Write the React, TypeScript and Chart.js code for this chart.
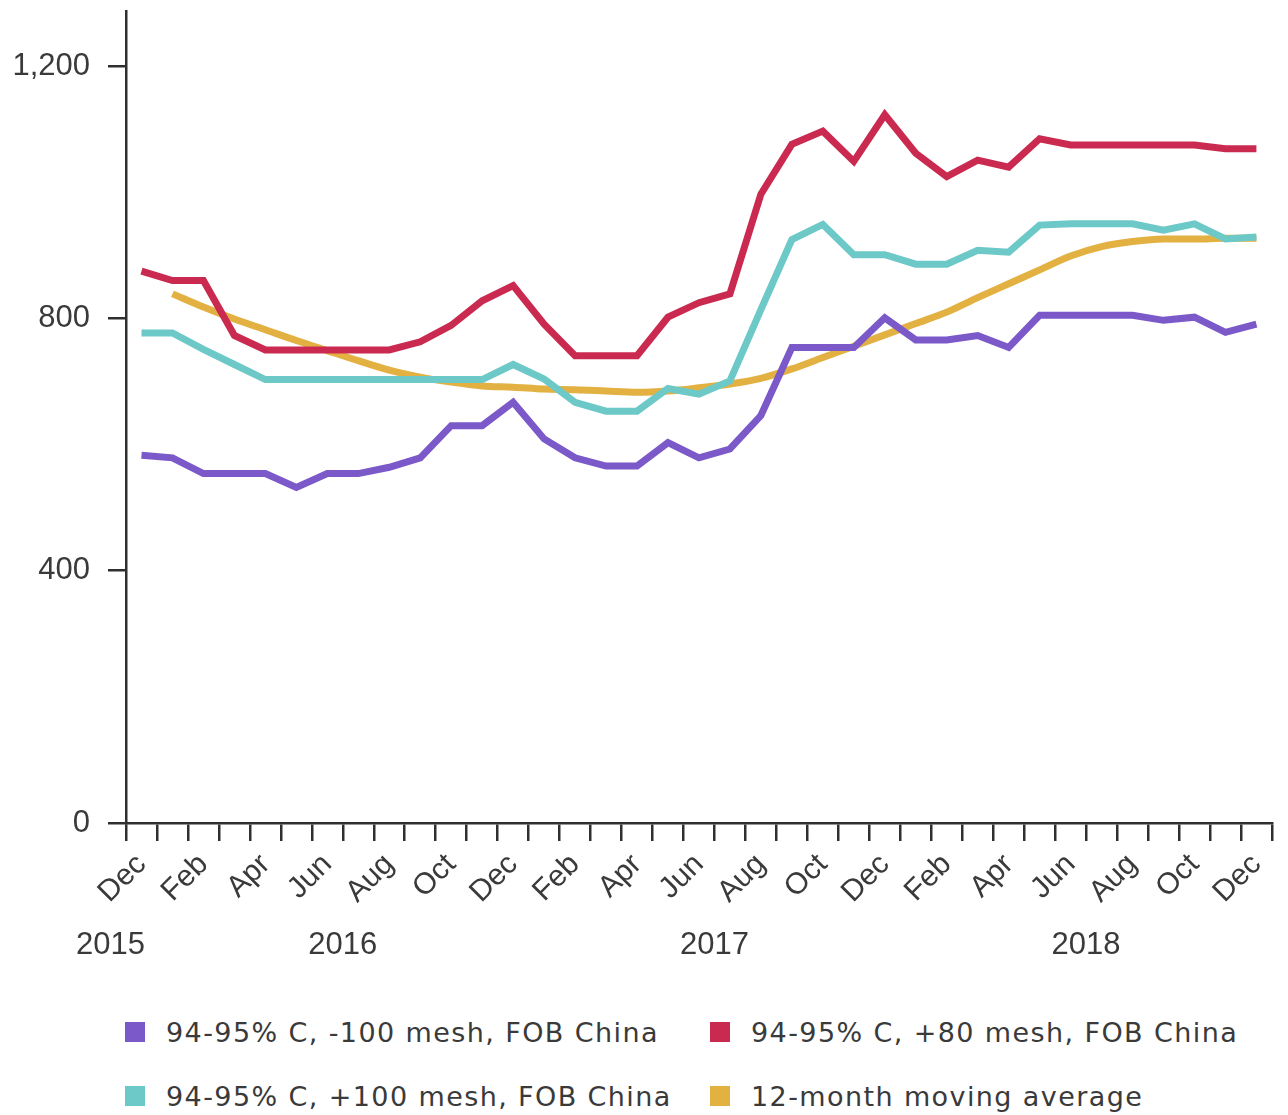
import React, { useEffect, useRef } from 'react';
import { Chart, registerables } from 'chart.js';

Chart.register(...registerables);

// ---- Data ----
const months: string[] = [
  'Dec',
  'Jan', 'Feb', 'Mar', 'Apr', 'May', 'Jun', 'Jul', 'Aug', 'Sep', 'Oct', 'Nov', 'Dec',
  'Jan', 'Feb', 'Mar', 'Apr', 'May', 'Jun', 'Jul', 'Aug', 'Sep', 'Oct', 'Nov', 'Dec',
  'Jan', 'Feb', 'Mar', 'Apr', 'May', 'Jun', 'Jul', 'Aug', 'Sep', 'Oct', 'Nov', 'Dec',
];

const minus100Mesh: number[] = [
  583, 579, 554, 554, 554, 532, 554, 554, 564, 579, 630, 630, 667,
  609, 579, 566, 566, 603, 579, 593, 646, 754, 754, 754, 801,
  766, 766, 773, 754, 805, 805, 805, 805, 797, 802, 778, 791,
];

const plus80Mesh: number[] = [
  875, 860, 860, 773, 750, 750, 750, 750, 750, 763, 789, 828, 852,
  791, 741, 741, 741, 802, 825, 839, 997, 1076, 1097, 1049, 1123,
  1062, 1025, 1051, 1040, 1085, 1075, 1075, 1075, 1075, 1075, 1069, 1069,
];

const plus100Mesh: number[] = [
  777, 777, 751, 727, 703, 703, 703, 703, 703, 703, 703, 703, 727,
  704, 667, 653, 653, 689, 680, 701, 814, 925, 949, 901, 901,
  886, 886, 908, 905, 948, 950, 950, 950, 940, 950, 926, 929,
];

const movingAverage: (number | null)[] = [
  null, 839, 818, 799, 782, 765, 749, 733, 718, 707, 699, 693, 691,
  688, 687, 685, 683, 685, 690, 696, 705, 720, 738, 756, 774,
  792, 810, 833, 855, 877, 899, 914, 922, 926, 926, 927, 927,
];

const seriesNames: string[] = [
  '94-95% C, -100 mesh, FOB China',
  '94-95% C, +80 mesh, FOB China',
  '94-95% C, +100 mesh, FOB China',
  '12-month moving average',
];

const yTickValues: number[] = [0, 400, 800, 1200];
const yearLabels: string[] = ['2015', '2016', '2017', '2018'];
// month index (in the category list) under which each year label is centred
const yearAnchors: number[] = [-1, 6.5, 18.5, 30.5];

// ---- Styles ----
const COLORS = ['#7b59c9', '#cb2a50', '#6cc9c7', '#e2b142'];
const AXIS = '#2f2f2f';
const TEXT = '#3a3a3a';
const TICK_FONT = "'Liberation Sans', Arial, sans-serif";
const LEGEND_FONT = "'DejaVu Sans', sans-serif";

function Legend() {
  const items = seriesNames.map((name, i) => ({ name, color: COLORS[i] }));
  const cell = (it: { name: string; color: string }) => (
    <div style={{ display: 'flex', alignItems: 'center', height: 40 }}>
      <span style={{ display: 'inline-block', width: 20, height: 20, background: it.color, marginRight: 21 }} />
      <span style={{ fontFamily: LEGEND_FONT, fontSize: 27, letterSpacing: '1.4px', color: TEXT, whiteSpace: 'nowrap' }}>{it.name}</span>
    </div>
  );
  return (
    <div style={{ position: 'absolute', left: 125, top: 1012, width: 1160 }}>
      <div style={{ display: 'grid', gridTemplateColumns: '585px auto', rowGap: 24 }}>
        {cell(items[0])}
        {cell(items[1])}
        {cell(items[2])}
        {cell(items[3])}
      </div>
    </div>
  );
}

export default function App() {
  const ref = useRef<HTMLCanvasElement | null>(null);

  useEffect(() => {
    if (!ref.current) return;
    const lineCommon = { pointRadius: 0, borderWidth: 7, fill: false, xAxisID: 'x', yAxisID: 'y' };
    const chart = new Chart(ref.current, {
      type: 'line',
      data: {
        labels: months,
        datasets: [
          { ...lineCommon, label: seriesNames[0], data: minus100Mesh, borderColor: COLORS[0], backgroundColor: COLORS[0], tension: 0 },
          { ...lineCommon, label: seriesNames[1], data: plus80Mesh, borderColor: COLORS[1], backgroundColor: COLORS[1], tension: 0 },
          { ...lineCommon, label: seriesNames[2], data: plus100Mesh, borderColor: COLORS[2], backgroundColor: COLORS[2], tension: 0 },
          { ...lineCommon, label: seriesNames[3], data: movingAverage, borderColor: COLORS[3], backgroundColor: COLORS[3], cubicInterpolationMode: 'monotone' },
        ],
      },
      options: {
        animation: false,
        responsive: true,
        maintainAspectRatio: false,
        layout: { padding: { left: 0, right: 10, top: 0, bottom: 0 } },
        plugins: { legend: { display: false }, tooltip: { enabled: false } },
        scales: {
          x: {
            type: 'category',
            offset: true,
            weight: 0,
            grid: { offset: true, drawOnChartArea: false, drawTicks: true, tickLength: 18, color: AXIS, lineWidth: 2.5 },
            border: { color: AXIS, width: 2.5 },
            ticks: {
              autoSkip: false,
              maxRotation: 45,
              minRotation: 45,
              padding: 6,
              color: TEXT,
              font: { family: TICK_FONT, size: 30 },
              callback: (_v: any, i: number) => (i % 2 === 0 ? months[i] : ''),
            },
            afterFit: (s: any) => { s.height = 92; },
          },
          years: {
            type: 'linear',
            position: 'bottom',
            weight: 1,
            min: -0.5,
            max: months.length - 0.5,
            grid: { display: false, drawTicks: false },
            border: { display: false },
            afterBuildTicks: (axis: any) => { axis.ticks = yearAnchors.map((v) => ({ value: v })); },
            ticks: {
              autoSkip: false,
              maxRotation: 0,
              padding: 12,
              color: TEXT,
              font: { family: TICK_FONT, size: 31 },
              callback: (_v: any, i: number) => yearLabels[i],
            },
            afterFit: (s: any) => { s.height = 60; },
          },
          y: {
            type: 'linear',
            min: 0,
            max: 1287,
            grid: { drawOnChartArea: false, drawTicks: true, tickLength: 18, color: AXIS, lineWidth: 2.5 },
            border: { color: AXIS, width: 2.5 },
            afterBuildTicks: (axis: any) => { axis.ticks = yTickValues.map((v) => ({ value: v })); },
            ticks: {
              padding: 18,
              color: TEXT,
              font: { family: TICK_FONT, size: 31, lineHeight: 0.6 },
              callback: (v: any) => Number(v).toLocaleString('en-US'),
            },
            afterFit: (s: any) => { s.width = 126; },
          },
        },
      },
    } as any);
    return () => chart.destroy();
  }, []);

  return (
    <div style={{ position: 'absolute', left: 0, top: 0, width: 1288, height: 1115, background: '#fff', overflow: 'hidden' }}>
      <div style={{ position: 'absolute', left: 0, top: -16, width: 1288, height: 991 }}>
        <canvas ref={ref} />
      </div>
      <Legend />
    </div>
  );
}
